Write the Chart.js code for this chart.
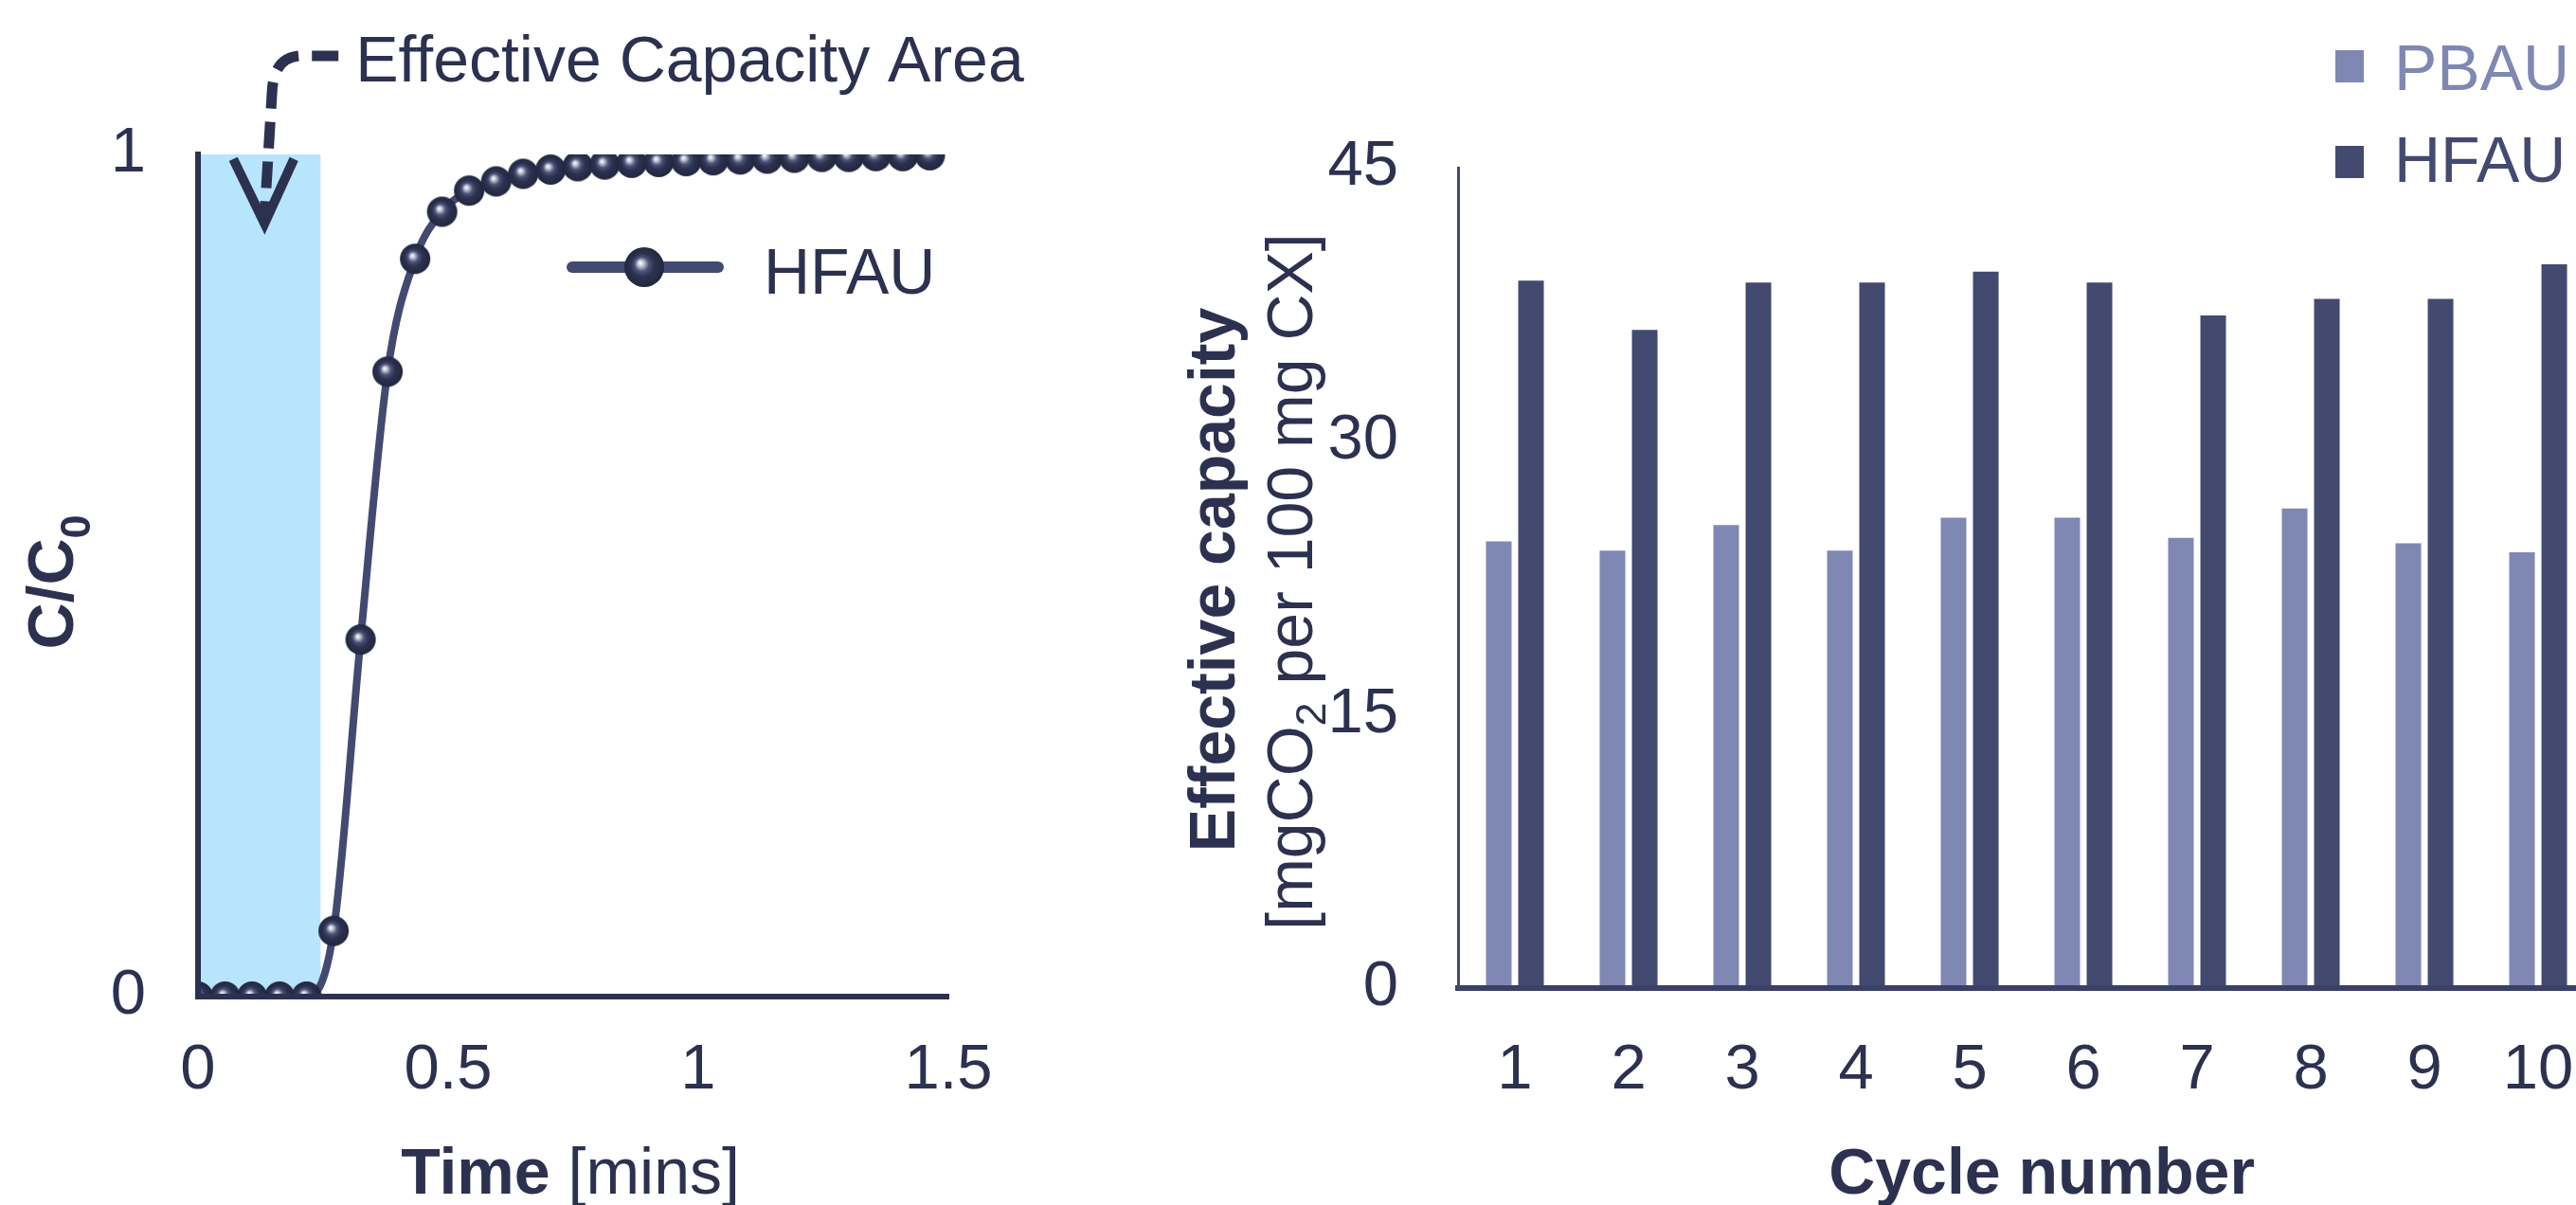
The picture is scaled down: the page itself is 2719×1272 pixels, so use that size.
<!DOCTYPE html>
<html>
<head>
<meta charset="utf-8">
<script src="https://cdn.jsdelivr.net/npm/chart.js@4.4.1/dist/chart.umd.min.js"></script>
<style>
  html, body { margin: 0; padding: 0; background: #ffffff; overflow: hidden; width: 2719px; height: 1272px; }
  #wrap { position: relative; width: 2719px; height: 1272px; overflow: hidden; }
  canvas { position: absolute; top: 0; }
  #breakthrough { left: 0; }
  #cycles { left: 1240px; }
</style>
</head>
<body>
<div id="wrap">
  <canvas id="breakthrough" width="1100" height="1272"></canvas>
  <canvas id="cycles" width="1479" height="1272"></canvas>
</div>
<script>
// ---- Breakthrough curve (HFAU) ----
const timeMins = [0, 0.054, 0.108, 0.163, 0.217, 0.271, 0.325, 0.379, 0.434, 0.488,
                  0.542, 0.596, 0.65, 0.705, 0.759, 0.813, 0.867, 0.921, 0.976, 1.03,
                  1.084, 1.138, 1.192, 1.247, 1.301, 1.355, 1.409, 1.463];
const hfauRatio = [0, 0, 0, 0, 0, 0.078, 0.424, 0.742, 0.876, 0.932,
                   0.957, 0.968, 0.977, 0.982, 0.986, 0.988, 0.99, 0.991, 0.992, 0.993,
                   0.994, 0.995, 0.996, 0.997, 0.997, 0.998, 0.998, 0.999];
const timeTicks = [0, 0.5, 1, 1.5];
const ratioTicks = [0, 1];
const effectiveWindow = [0, 0.245];   // time span shaded as the effective capacity area

// ---- Effective capacity per cycle ----
const cycles = [1, 2, 3, 4, 5, 6, 7, 8, 9, 10];
const pbauCapacity = [24.5, 24.0, 25.4, 24.0, 25.8, 25.8, 24.7, 26.3, 24.4, 23.9];
const hfauCapacity = [38.8, 36.1, 38.7, 38.7, 39.3, 38.7, 36.9, 37.8, 37.8, 39.7];
const capacityTicks = [0, 15, 30, 45];
const cycleAxisRange = [0.5, 10.333];   // last cycle sits close to the right edge

const FONT = '"Liberation Sans", Arial, Helvetica, sans-serif';
const INK = '#2c3150';
const LINE = '#434a72';
const PBAU_COLOR = '#7f87b3';
const HFAU_COLOR = '#424a70';
const FS = 67;     // tick labels
const TS = 68;     // titles and annotation

function makeSphere(r) {
  const s = Math.ceil(2 * r + 2);
  const c = document.createElement('canvas');
  c.width = s; c.height = s;
  const g = c.getContext('2d');
  const cx = s / 2, cy = s / 2;
  const grad = g.createRadialGradient(cx - 0.2 * r, cy - 0.22 * r, 0, cx, cy, r);
  grad.addColorStop(0, '#ffffff');
  grad.addColorStop(0.12, '#d4d6e0');
  grad.addColorStop(0.36, '#4d5378');
  grad.addColorStop(0.6, '#2c3150');
  grad.addColorStop(1, '#22273e');
  g.fillStyle = grad;
  g.beginPath(); g.arc(cx, cy, r, 0, Math.PI * 2); g.fill();
  return c;
}

// Draws a run of text pieces (bold / normal / subscript) along one baseline.
function richText(ctx, parts, x, y, rot, align) {
  ctx.save();
  ctx.translate(x, y);
  ctx.rotate(rot);
  ctx.textBaseline = 'alphabetic';
  ctx.textAlign = 'left';
  let total = 0;
  parts.forEach(p => {
    ctx.font = `${p.bold ? 'bold ' : ''}${p.size}px ${FONT}`;
    p.w = ctx.measureText(p.t).width;
    total += p.w;
  });
  let cx = align === 'center' ? -total / 2 : 0;
  parts.forEach(p => {
    ctx.font = `${p.bold ? 'bold ' : ''}${p.size}px ${FONT}`;
    ctx.fillStyle = p.color || INK;
    ctx.fillText(p.t, cx, p.dy || 0);
    cx += p.w;
  });
  ctx.restore();
}

// Keep the plot area fixed: labels at the ends may overhang instead of shrinking it.
function fixedFit(size) {
  return s => {
    if (s.isHorizontal()) s.height = size; else s.width = size;
    s.paddingLeft = 0; s.paddingRight = 0; s.paddingTop = 0; s.paddingBottom = 0;
  };
}

const sphere = makeSphere(16);
const legendSphere = makeSphere(21);

const breakthroughDecor = {
  id: 'breakthroughDecor',
  beforeDatasetsDraw(chart) {
    const { ctx, scales: { x, y } } = chart;
    const x0 = x.getPixelForValue(effectiveWindow[0]);
    const x1 = x.getPixelForValue(effectiveWindow[1]);
    const yTop = y.getPixelForValue(1);
    const yBot = y.getPixelForValue(0);
    ctx.save();
    ctx.fillStyle = '#b7e5fd';
    ctx.fillRect(x0, yTop, x1 - x0, yBot - yTop);
    ctx.restore();
  },
  afterDraw(chart) {
    const { ctx, chartArea: a, scales: { x, y } } = chart;
    // axis titles
    richText(ctx, [
      { t: 'Time ', bold: true, size: TS },
      { t: '[mins]', bold: false, size: TS }
    ], (a.left + a.right) / 2 - 3, 1260, 0, 'center');
    richText(ctx, [
      { t: 'C/C', bold: true, size: TS },
      { t: '0', bold: true, size: 45, dy: 18 }
    ], a.left - 132, (a.top + a.bottom) / 2 + 7, -Math.PI / 2, 'center');

    // dashed arrow pointing into the shaded window
    const tx = x.getPixelForValue(0.133);
    const ty = y.getPixelForValue(0.918);
    ctx.save();
    ctx.strokeStyle = INK;
    ctx.lineWidth = 11;
    ctx.setLineDash([28, 14]);
    ctx.beginPath();
    ctx.moveTo(tx + 78, ty - 177);
    ctx.lineTo(tx + 40, ty - 177);
    ctx.quadraticCurveTo(tx + 10, ty - 177, tx + 8, ty - 140);
    ctx.lineTo(tx, ty - 8);
    ctx.stroke();
    ctx.setLineDash([]);
    ctx.lineWidth = 10;
    ctx.lineJoin = 'miter';
    ctx.beginPath();
    ctx.moveTo(tx - 33, ty - 68);
    ctx.lineTo(tx, ty);
    ctx.lineTo(tx + 31, ty - 68);
    ctx.stroke();
    ctx.restore();
    richText(ctx, [{ t: 'Effective Capacity Area', bold: false, size: TS }],
      tx + 96, ty - 150, 0, 'left');

    // legend
    const ly = 282;
    ctx.save();
    ctx.strokeStyle = LINE;
    ctx.lineWidth = 12;
    ctx.lineCap = 'round';
    ctx.beginPath(); ctx.moveTo(604, ly); ctx.lineTo(758, ly); ctx.stroke();
    ctx.drawImage(legendSphere, 680 - legendSphere.width / 2, ly - legendSphere.height / 2);
    ctx.restore();
    richText(ctx, [{ t: chart.data.datasets[0].label, bold: false, size: TS }], 806, 310, 0, 'left');
  }
};

new Chart(document.getElementById('breakthrough'), {
  type: 'line',
  data: {
    datasets: [{
      label: 'HFAU',
      data: timeMins.map((t, i) => ({ x: t, y: hfauRatio[i] })),
      borderColor: LINE,
      borderWidth: 8,
      cubicInterpolationMode: 'monotone',
      pointStyle: sphere,
      pointRadius: 16,
      pointHoverRadius: 16
    }]
  },
  options: {
    responsive: false,
    animation: false,
    events: [],
    layout: { autoPadding: false, padding: { top: 163, right: 99, left: 0, bottom: 0 } },
    plugins: { legend: { display: false }, tooltip: { enabled: false } },
    scales: {
      x: {
        type: 'linear', min: 0, max: 1.5,
        afterBuildTicks: s => { s.ticks = timeTicks.map(v => ({ value: v })); },
        afterFit: fixedFit(220),
        grid: { display: false, drawTicks: false },
        border: { display: true, color: INK, width: 6, z: 1 },
        ticks: { color: INK, font: { family: FONT, size: FS }, padding: 38, maxRotation: 0,
                 callback: v => String(v) }
      },
      y: {
        type: 'linear', min: 0, max: 1,
        afterBuildTicks: s => { s.ticks = ratioTicks.map(v => ({ value: v })); },
        afterFit: fixedFit(209),
        grid: { display: false, drawTicks: false },
        border: { display: true, color: INK, width: 6, z: 1 },
        ticks: { color: INK, font: { family: FONT, size: FS }, padding: 55,
                 callback: v => String(v) }
      }
    }
  },
  plugins: [breakthroughDecor]
});

const cyclesDecor = {
  id: 'cyclesDecor',
  afterDraw(chart) {
    const { ctx, chartArea: a } = chart;
    const midY = (a.top + a.bottom) / 2;
    richText(ctx, [{ t: 'Cycle number', bold: true, size: TS }], 915, 1260, 0, 'center');
    richText(ctx, [{ t: 'Effective capacity', bold: true, size: TS }],
      a.left - 236, midY + 2, -Math.PI / 2, 'center');
    richText(ctx, [
      { t: '[mgCO', bold: false, size: TS },
      { t: '2', bold: false, size: 45, dy: 14 },
      { t: ' per 100 mg CX]', bold: false, size: TS }
    ], a.left - 154, midY + 4, -Math.PI / 2, 'center');

    // legend
    const ds = chart.data.datasets;
    const rows = [{ y: 53, base: 95 }, { y: 154, base: 192 }];
    ds.forEach((d, i) => {
      ctx.fillStyle = d.backgroundColor;
      ctx.fillRect(1225, rows[i].y, 30, 34);
      richText(ctx, [{ t: d.label, bold: false, size: TS, color: d.backgroundColor }],
        1287, rows[i].base, 0, 'left');
    });
  }
};

new Chart(document.getElementById('cycles'), {
  type: 'bar',
  data: {
    datasets: [
      { label: 'PBAU', data: cycles.map((c, i) => ({ x: c, y: pbauCapacity[i] })),
        backgroundColor: PBAU_COLOR, categoryPercentage: 0.567, barPercentage: 0.794 },
      { label: 'HFAU', data: cycles.map((c, i) => ({ x: c, y: hfauCapacity[i] })),
        backgroundColor: HFAU_COLOR, categoryPercentage: 0.567, barPercentage: 0.794 }
    ]
  },
  options: {
    responsive: false,
    animation: false,
    events: [],
    layout: { autoPadding: false, padding: { top: 177, right: 0, left: 0, bottom: 0 } },
    plugins: { legend: { display: false }, tooltip: { enabled: false } },
    scales: {
      x: {
        type: 'linear', offset: false,
        min: cycleAxisRange[0], max: cycleAxisRange[1],
        afterBuildTicks: s => { s.ticks = cycles.map(v => ({ value: v })); },
        afterFit: fixedFit(229),
        grid: { display: false, drawTicks: false },
        border: { display: true, color: '#3a4068', width: 6, z: 1 },
        ticks: { color: INK, font: { family: FONT, size: FS }, padding: 47, maxRotation: 0,
                 callback: v => String(v) }
      },
      y: {
        min: 0, max: 45,
        afterBuildTicks: s => { s.ticks = capacityTicks.map(v => ({ value: v })); },
        afterFit: fixedFit(299),
        grid: { display: false, drawTicks: false },
        border: { display: true, color: HFAU_COLOR, width: 3, z: 1 },
        ticks: { color: INK, font: { family: FONT, size: FS }, padding: 63 }
      }
    }
  },
  plugins: [cyclesDecor]
});
</script>
</body>
</html>
